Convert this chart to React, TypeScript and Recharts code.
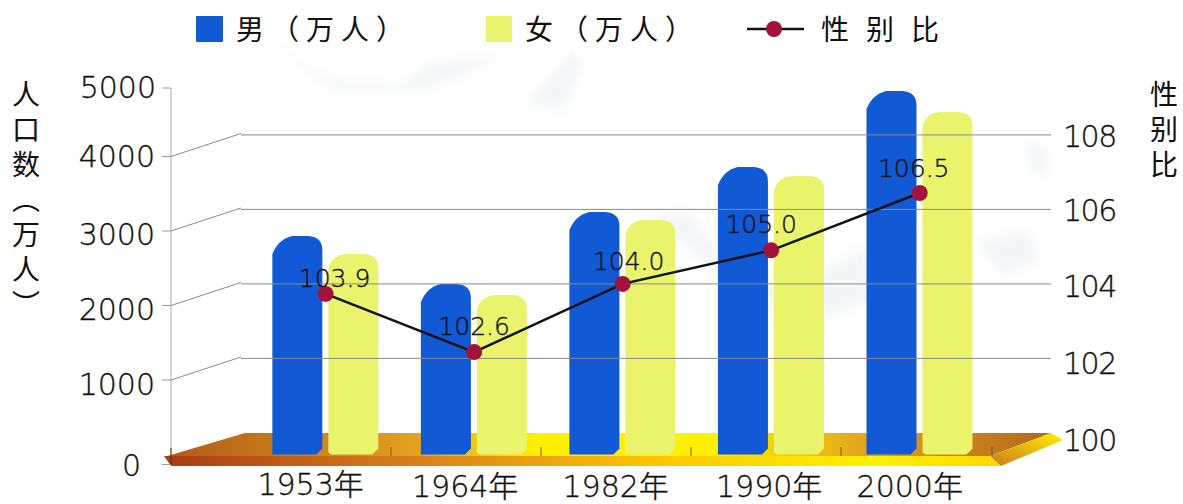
import { Bar, ComposedChart, LabelList, Line, ReferenceLine, XAxis, YAxis } from 'recharts';

const years = ['1953年', '1964年', '1982年', '1990年', '2000年'];
const maleValues = [2933, 2289, 3255, 3859, 4879];
const femaleValues = [2691, 2141, 3148, 3738, 4597];
// the printed numbers and where the dots actually sit differ a little in the source
const ratioPlotted = [103.73, 102.17, 104.0, 104.9, 106.44];
const ratioLabels = ['103.9', '102.6', '104.0', '105.0', '106.5'];
const leftTicks = [0, 1000, 2000, 3000, 4000, 5000];
const rightTicks = [100, 102, 104, 106, 108];
const gridValues = [102, 104, 106, 108];

const MALE_NAME = '男（万人）';
const FEMALE_NAME = '女（万人）';
const RATIO_NAME = '性别比';

const chartData = years.map((year, i) => ({
  year,
  male: maleValues[i],
  female: femaleValues[i],
  ratio: ratioPlotted[i],
  ratioLabel: ratioLabels[i],
}));

const NUM_FONT = '"DejaVu Sans", "Noto Sans CJK SC", sans-serif';
const CJK_FONT = '"Noto Sans CJK SC", sans-serif';
const TEXT = '#111';
const numStyle = { fontFamily: NUM_FONT, fontWeight: 200, fill: TEXT, stroke: TEXT, strokeWidth: 0.35 };

// tick mark shift, label shift, label right edge
const LEFT_SHIFT: Record<number, [number, number, number]> = {
  0: [10, 12, 141],
  1000: [0, 16, 155],
  2000: [0, 15, 155],
  3000: [0, 15, 155],
  4000: [0, 11, 155],
  5000: [6, 11, 156],
};

const LeftTick = ({ y, payload }: any) => {
  const [tickDy, labelDy, right] = LEFT_SHIFT[payload.value];
  const ty = y + tickDy;
  const inner = payload.value > 0 && payload.value < 5000;
  return (
    <g>
      <line x1={162} x2={171} y1={ty} y2={ty} stroke="#9a9a9a" />
      {inner && <line x1={171} y1={ty} x2={241} y2={ty - 23} stroke="#8a8a8a" />}
      <text x={right} y={ty + labelDy - 1} textAnchor="end" fontSize={30} style={numStyle}>
        {payload.value}
      </text>
    </g>
  );
};

const RIGHT_SHIFT: Record<number, number> = { 100: 18, 102: 16, 104: 13, 106: 12, 108: 12 };

const RightTick = ({ y, payload }: any) => (
  <text x={1063} y={y + RIGHT_SHIFT[payload.value]} fontSize={30} letterSpacing={-1.5} style={numStyle}>
    {payload.value}
  </text>
);

const X_SHIFT = [-15, -9, -7, -2, -10];
const X_BASE = [495, 497, 497, 497, 497];

const YearTick = ({ x, payload, index }: any) => (
  <text x={x + X_SHIFT[index]} y={X_BASE[index]} textAnchor="middle" fontSize={30} style={numStyle}>
    {payload.value}
  </text>
);

const LABEL_SHIFT = [[9, -7], [0, -17], [6, -14], [-10, -17], [-6, -16]];

const RatioLabel = ({ x, y, index, value }: any) => (
  <text x={x + LABEL_SHIFT[index][0]} y={y + LABEL_SHIFT[index][1]} textAnchor="middle" fontSize={25} style={numStyle}>
    {value}
  </text>
);

const MaleBar = ({ x, y, width, height, fill }: any) => {
  const r = x + width;
  const b = y + height;
  const d = `M${x},${b} L${x},${y + 18} Q${x + 6},${y + 3} ${x + 20},${y} L${r - 14},${y} Q${r},${y + 1} ${r},${y + 14} L${r},${b - 6} L${r - 6},${b} Z`;
  return <path d={d} fill={fill} />;
};

const FemaleBar = ({ x, y, width, height, fill }: any) => {
  const r = x + width;
  const b = y + height;
  const d = `M${x},${b - 2} L${x},${y + 14} Q${x + 4},${y + 1} ${x + 18},${y} L${r - 14},${y} Q${r},${y + 1} ${r},${y + 14} L${r},${b - 6} L${r - 6},${b} L${x + 3},${b} Z`;
  return <path d={d} fill={fill} />;
};

const Backdrop = () => (
  <svg width={1183} height={504} style={{ position: 'absolute', left: 0, top: 0 }}>
    <defs>
      <linearGradient id="floorTop" x1="0" x2="1" y1="0" y2="0">
        <stop offset="0" stopColor="#b05a18" />
        <stop offset="0.28" stopColor="#e2a01e" />
        <stop offset="0.42" stopColor="#fff000" />
        <stop offset="0.62" stopColor="#fff000" />
        <stop offset="0.8" stopColor="#e0a020" />
        <stop offset="1" stopColor="#b5661c" />
      </linearGradient>
      <linearGradient id="floorFront" x1="0" x2="1" y1="0" y2="0">
        <stop offset="0" stopColor="#a83c12" />
        <stop offset="0.3" stopColor="#d88018" />
        <stop offset="0.6" stopColor="#ffc800" />
        <stop offset="0.85" stopColor="#fff000" />
        <stop offset="1" stopColor="#ffd800" />
      </linearGradient>
      <linearGradient id="floorSide" x1="0" x2="1" y1="1" y2="0">
        <stop offset="0" stopColor="#c77c1c" />
        <stop offset="1" stopColor="#fff000" />
      </linearGradient>
      <filter id="haze"><feGaussianBlur stdDeviation="5" /></filter>
    </defs>

    {/* faint mountains behind the plot */}
    <g fill="#eceef1" opacity={0.55} filter="url(#haze)">
      <polygon points="265,38 325,78 400,85 430,62 505,55 470,72 420,92 330,90" />
      <polygon points="525,105 570,52 585,60 565,110" />
      <polygon points="650,215 690,210 730,265 790,290 865,245 870,300 800,330 730,290" />
      <polygon points="975,240 1030,230 1040,262 1000,275" />
      <polygon points="1025,140 1050,150 1045,180 1030,170" />
    </g>

    <line x1={171} x2={171} y1={88} y2={465} stroke="#a8a8a8" />

    <polygon points="164,457 245,433 1051,433 990,456" fill="url(#floorTop)" />
    <polygon points="164,456 990,456 1001,466 171,466" fill="url(#floorFront)" />
    <polygon points="990,456 1051,433 1063,440 1001,466" fill="url(#floorSide)" />
    <line x1={171} x2={171} y1={448} y2={465} stroke="#5a2a10" />
    {[391, 541, 691, 841, 992].map(x => (
      <line key={x} x1={x} x2={x} y1={447} y2={456} stroke="#7a5a20" />
    ))}

    {/* legend */}
    <g fontFamily={CJK_FONT} fontSize={28} fill={TEXT}>
      <rect x={196} y={16} width={27} height={26} rx={1} fill="#1259d6" />
      <text x={236} y={40} letterSpacing={7}>{MALE_NAME}</text>
      <rect x={486} y={16} width={26} height={26} fill="#e9f36c" />
      <text x={525} y={40} letterSpacing={7}>{FEMALE_NAME}</text>
      <line x1={747} x2={804} y1={29} y2={29} stroke="#111" strokeWidth={2.5} />
      <circle cx={774} cy={29} r={8} fill="#a3123c" />
      <text x={821} y={40} letterSpacing={17}>{RATIO_NAME}</text>
    </g>

    {/* axis titles */}
    <g fontFamily={CJK_FONT} fontSize={28} fill={TEXT} style={{ writingMode: 'vertical-rl' }}>
      <text x={26} y={80} letterSpacing={7}>人口数（万人）</text>
      <text x={1164} y={80} letterSpacing={7}>性别比</text>
    </g>
  </svg>
);

export default function App() {
  return (
    <div style={{ position: 'absolute', left: 0, top: 0, width: 1183, height: 504, background: '#fff', overflow: 'hidden' }}>
      <Backdrop />
      <div style={{ position: 'absolute', left: 0, top: 0 }}>
        <ComposedChart
          width={1183}
          height={504}
          data={chartData}
          margin={{ top: 82, right: 0, bottom: 0, left: 0 }}
          barSize={50}
          barGap={6}
        >
          <XAxis
            dataKey="year"
            height={49.5}
            interval={0}
            axisLine={false}
            tickLine={false}
            padding={{ left: 10.35, right: 57 }}
            tick={YearTick}
          />
          <YAxis
            yAxisId="left"
            width={241}
            domain={[0, 5000]}
            ticks={leftTicks}
            interval={0}
            axisLine={false}
            tickLine={false}
            tick={LeftTick}
          />
          <YAxis
            yAxisId="right"
            orientation="right"
            width={132}
            domain={[99.42, 109.42]}
            ticks={rightTicks}
            interval={0}
            axisLine={false}
            tickLine={false}
            tick={RightTick}
          />
          {gridValues.map(v => (
            <ReferenceLine key={v} yAxisId="right" y={v} stroke="#8a8a8a" />
          ))}
          <Bar yAxisId="left" dataKey="male" name={MALE_NAME} fill="#1259d6" shape={MaleBar} isAnimationActive={false} />
          <Bar yAxisId="left" dataKey="female" name={FEMALE_NAME} fill="#e9f36c" shape={FemaleBar} isAnimationActive={false} />
          <Line
            yAxisId="right"
            dataKey="ratio"
            name={RATIO_NAME}
            stroke="#111"
            strokeWidth={2.5}
            dot={{ r: 8, fill: '#a3123c', stroke: '#a3123c', strokeWidth: 0, fillOpacity: 1 }}
            isAnimationActive={false}
          >
            <LabelList dataKey="ratioLabel" content={RatioLabel} />
          </Line>
        </ComposedChart>
      </div>
    </div>
  );
}
